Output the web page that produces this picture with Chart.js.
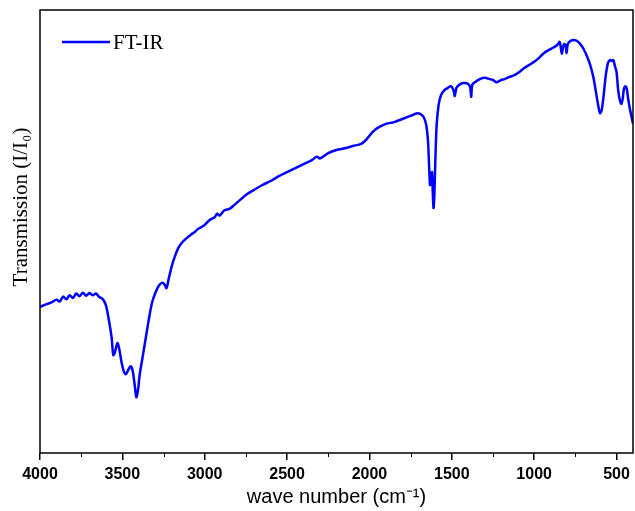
<!DOCTYPE html>
<html>
<head>
<meta charset="utf-8">
<script src="https://cdn.jsdelivr.net/npm/chart.js@4"></script>
<style>
  body { margin: 0; background: #fff; }
  #wrap { width: 635px; height: 511px; }
</style>
</head>
<body>
<div id="wrap"><canvas id="ftir"></canvas></div>
<script>
// wavenumbers (cm-1)
const wavenumbers = [4000, 3960, 3930, 3900, 3880, 3860, 3840, 3820, 3800, 3780, 3760, 3740, 3720, 3700, 3680, 3660, 3640, 3620, 3600, 3580, 3565, 3555, 3545, 3530, 3520, 3505, 3490, 3478, 3465, 3450, 3438, 3425, 3415, 3405, 3395, 3380, 3360, 3340, 3320, 3300, 3280, 3260, 3245, 3232, 3220, 3200, 3180, 3160, 3140, 3110, 3080, 3060, 3040, 3020, 3000, 2970, 2940, 2925, 2910, 2880, 2850, 2820, 2780, 2740, 2700, 2650, 2600, 2550, 2500, 2450, 2400, 2350, 2320, 2300, 2250, 2200, 2150, 2100, 2050, 2020, 2000, 1980, 1950, 1900, 1850, 1800, 1750, 1710, 1690, 1670, 1655, 1645, 1638, 1632, 1626, 1620, 1616, 1611, 1606, 1600, 1592, 1580, 1565, 1545, 1525, 1505, 1490, 1482, 1472, 1455, 1430, 1400, 1388, 1382, 1376, 1360, 1330, 1300, 1270, 1250, 1230, 1215, 1200, 1180, 1150, 1120, 1090, 1060, 1030, 1000, 970, 940, 910, 880, 860, 845, 838, 832, 826, 818, 810, 803, 796, 780, 760, 740, 720, 700, 680, 660, 640, 625, 612, 600, 590, 578, 565, 552, 540, 530, 520, 510, 500, 490, 480, 470, 462, 455, 445, 438, 430, 420, 410, 400];
// transmission in arbitrary units
const transmission = [33.0, 33.6, 34.0, 34.6, 34.2, 35.3, 34.7, 35.6, 35.0, 36.0, 35.4, 36.2, 35.5, 36.1, 35.6, 36.0, 35.2, 34.8, 33.4, 29.6, 26.0, 22.1, 22.8, 24.8, 23.7, 20.5, 18.3, 17.8, 18.7, 19.6, 18.7, 15.3, 12.6, 14.2, 17.6, 21.0, 25.5, 30.0, 33.9, 36.1, 37.7, 38.4, 38.1, 37.2, 39.1, 42.2, 44.5, 46.3, 47.4, 48.5, 49.4, 49.9, 50.6, 51.0, 51.5, 52.6, 53.2, 54.0, 53.6, 54.8, 55.1, 56.0, 57.3, 58.5, 59.4, 60.5, 61.4, 62.5, 63.4, 64.3, 65.2, 66.1, 66.9, 66.5, 67.7, 68.4, 68.8, 69.3, 69.8, 70.7, 71.6, 72.5, 73.4, 74.3, 74.7, 75.4, 76.1, 76.7, 76.5, 75.8, 74.0, 70.7, 65.0, 60.5, 61.6, 63.4, 59.4, 55.3, 58.2, 66.1, 74.0, 78.6, 80.8, 81.9, 82.4, 82.8, 81.9, 80.6, 82.4, 83.1, 83.5, 83.3, 82.4, 80.4, 83.1, 83.7, 84.4, 84.7, 84.4, 84.2, 83.7, 83.9, 84.2, 84.4, 84.9, 85.3, 86.0, 86.9, 87.6, 88.3, 89.2, 90.3, 91.0, 91.6, 92.1, 92.8, 91.4, 90.1, 91.4, 92.3, 92.1, 90.3, 92.3, 93.0, 93.2, 93.0, 92.3, 91.2, 89.6, 87.6, 84.7, 81.5, 78.6, 76.7, 77.4, 80.8, 85.3, 88.0, 88.7, 88.5, 88.7, 87.4, 86.0, 81.9, 79.7, 78.8, 80.1, 82.2, 82.8, 82.2, 80.1, 77.9, 76.1, 74.3];
const xTicks = [4000, 3500, 3000, 2500, 2000, 1500, 1000, 500];
const xMinorTicks = [3750, 3250, 2750, 2250, 1750, 1250, 750];

const points = wavenumbers.map((w, i) => ({ x: w, y: transmission[i] }));

// frame, minor ticks, y title and the legend inside the plot
const framePlugin = {
    id: 'frame',
    afterDraw(chart) {
        const ctx = chart.ctx;
        const a = chart.chartArea;
        const xs = chart.scales.x;
        ctx.save();
        ctx.strokeStyle = '#000';
        ctx.lineWidth = 1.5;
        ctx.strokeRect(a.left, a.top, a.right - a.left, a.bottom - a.top);
        ctx.lineWidth = 1;
        xMinorTicks.forEach(v => {
            const px = Math.round(xs.getPixelForValue(v)) + 0.5;
            ctx.beginPath();
            ctx.moveTo(px, a.bottom);
            ctx.lineTo(px, a.bottom + 4);
            ctx.stroke();
        });
        // y axis title, sits a bit above the middle like the original
        ctx.fillStyle = '#000';
        ctx.font = '21px "Liberation Serif", "Times New Roman", serif';
        ctx.textAlign = 'center';
        ctx.textBaseline = 'middle';
        ctx.save();
        ctx.translate(21, 207);
        ctx.rotate(-Math.PI / 2);
        ctx.fillText('Transmission (I/I\u2080)', 0, 0);
        ctx.restore();
        // legend
        ctx.strokeStyle = '#0000ff';
        ctx.lineWidth = 2.5;
        ctx.beginPath();
        ctx.moveTo(a.left + 22, 42);
        ctx.lineTo(a.left + 70, 42);
        ctx.stroke();
        ctx.textAlign = 'left';
        ctx.fillText(chart.data.datasets[0].label, a.left + 73, 43);
        ctx.restore();
    }
};

new Chart(document.getElementById('ftir'), {
    type: 'line',
    data: {
        datasets: [{
            label: 'FT-IR',
            data: points,
            borderColor: '#0000ff',
            borderWidth: 2.5,
            pointRadius: 0,
            tension: 0.3,
            fill: false
        }]
    },
    options: {
        responsive: true,
        maintainAspectRatio: false,
        animation: false,
        layout: { padding: { top: 10, right: 2, left: 0, bottom: 0 } },
        plugins: { legend: { display: false }, tooltip: { enabled: false } },
        scales: {
            x: {
                type: 'linear',
                reverse: true,
                min: 400,
                max: 4000,
                afterBuildTicks: s => { s.ticks = xTicks.map(v => ({ value: v })); },
                afterFit: s => { s.height = 58; },
                border: { display: false },
                grid: { drawOnChartArea: false, tickLength: 7, tickColor: '#000', lineWidth: 1.5 },
                ticks: {
                    color: '#000',
                    padding: 5,
                    maxRotation: 0,
                    callback: v => String(v),
                    font: { family: '"Liberation Sans", Arial, sans-serif', size: 16, weight: 'bold' }
                },
                title: {
                    display: true,
                    text: 'wave number (cm\u207B\u00B9)',
                    color: '#000',
                    padding: { top: 0, bottom: 2 },
                    font: { family: '"Liberation Sans", Arial, sans-serif', size: 20 }
                }
            },
            y: {
                min: 0,
                max: 100,
                afterFit: s => { s.width = 40; },
                border: { display: false },
                grid: { display: false },
                ticks: { display: false },
                title: { display: false }
            }
        }
    },
    plugins: [framePlugin]
});
</script>
</body>
</html>
